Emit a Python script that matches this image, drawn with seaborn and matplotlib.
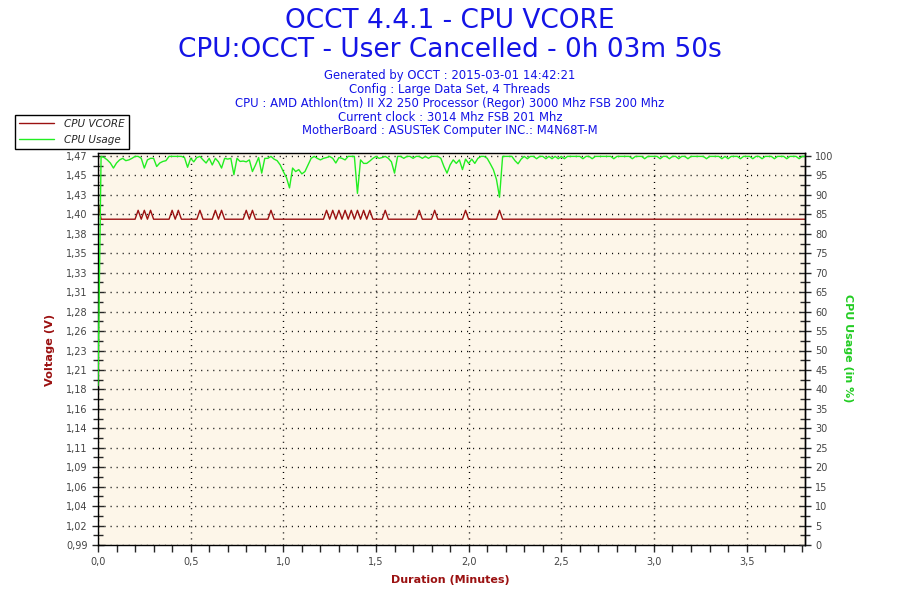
import numpy as np
import pandas as pd
import matplotlib
matplotlib.use("Agg")
import matplotlib.pyplot as plt
from matplotlib.lines import Line2D
from matplotlib.ticker import FixedLocator, MultipleLocator, FuncFormatter
import seaborn as sns

# ------------------------------------------
# data: one sample per second (0h 03m 50s)
# ------------------------------------------
seconds = np.arange(230)

vcore = [
    1.413, 1.392, 1.392, 1.392, 1.392, 1.392, 1.392, 1.392, 1.392, 1.392,
    1.392, 1.392, 1.392, 1.403, 1.392, 1.403, 1.392, 1.403, 1.392, 1.392,
    1.392, 1.392, 1.392, 1.392, 1.403, 1.392, 1.403, 1.392, 1.392, 1.392,
    1.392, 1.392, 1.392, 1.403, 1.392, 1.392, 1.392, 1.392, 1.403, 1.392,
    1.403, 1.392, 1.392, 1.392, 1.392, 1.392, 1.392, 1.392, 1.403, 1.392,
    1.403, 1.392, 1.392, 1.392, 1.392, 1.392, 1.403, 1.392, 1.392, 1.392,
    1.392, 1.392, 1.392, 1.392, 1.392, 1.392, 1.392, 1.392, 1.392, 1.392,
    1.392, 1.392, 1.392, 1.392, 1.403, 1.392, 1.403, 1.392, 1.403, 1.392,
    1.403, 1.392, 1.403, 1.392, 1.403, 1.392, 1.403, 1.392, 1.403, 1.392,
    1.392, 1.392, 1.392, 1.403, 1.392, 1.392, 1.392, 1.392, 1.392, 1.392,
    1.392, 1.392, 1.392, 1.392, 1.403, 1.392, 1.392, 1.392, 1.392, 1.403,
    1.392, 1.392, 1.392, 1.392, 1.392, 1.392, 1.392, 1.392, 1.392, 1.403,
    1.392, 1.392, 1.392, 1.392, 1.392, 1.392, 1.392, 1.392, 1.392, 1.392,
    1.403, 1.392, 1.392, 1.392, 1.392, 1.392, 1.392, 1.392, 1.392, 1.392,
    1.392, 1.392, 1.392, 1.392, 1.392, 1.392, 1.392, 1.392, 1.392, 1.392,
    1.392, 1.392, 1.392, 1.392, 1.392, 1.392, 1.392, 1.392, 1.392, 1.392,
    1.392, 1.392, 1.392, 1.392, 1.392, 1.392, 1.392, 1.392, 1.392, 1.392,
    1.392, 1.392, 1.392, 1.392, 1.392, 1.392, 1.392, 1.392, 1.392, 1.392,
    1.392, 1.392, 1.392, 1.392, 1.392, 1.392, 1.392, 1.392, 1.392, 1.392,
    1.392, 1.392, 1.392, 1.392, 1.392, 1.392, 1.392, 1.392, 1.392, 1.392,
    1.392, 1.392, 1.392, 1.392, 1.392, 1.392, 1.392, 1.392, 1.392, 1.392,
    1.392, 1.392, 1.392, 1.392, 1.392, 1.392, 1.392, 1.392, 1.392, 1.392,
    1.392, 1.392, 1.392, 1.392, 1.392, 1.392, 1.392, 1.392, 1.392, 1.392,
]

usage = [
    41.0, 99.9, 99.6, 99.0, 98.2, 96.9, 98.2, 99.0, 99.4, 98.8,
    99.0, 99.4, 99.9, 99.9, 99.4, 96.9, 99.0, 99.4, 99.4, 97.3,
    98.2, 98.6, 98.8, 99.9, 99.9, 99.9, 99.9, 99.9, 99.6, 97.1,
    99.4, 98.5, 99.6, 99.9, 99.0, 98.2, 99.4, 97.7, 99.4, 98.5,
    96.9, 99.4, 99.2, 99.4, 95.2, 99.4, 98.6, 98.7, 98.5, 99.0,
    96.0, 97.7, 99.6, 95.6, 99.4, 99.4, 99.9, 99.2, 98.8, 97.7,
    96.0, 94.5, 91.8, 96.9, 96.0, 96.5, 95.4, 96.0, 97.7, 99.4,
    99.9, 99.4, 99.0, 99.4, 99.6, 99.9, 99.4, 98.2, 99.6, 99.4,
    99.0, 99.9, 99.9, 99.9, 90.4, 99.0, 98.1, 98.1, 98.7, 99.4,
    99.9, 99.4, 99.6, 99.9, 99.4, 98.5, 95.6, 99.9, 99.9, 99.4,
    99.9, 99.9, 99.4, 99.9, 99.9, 99.4, 99.9, 99.4, 99.9, 99.9,
    99.9, 99.4, 97.3, 95.6, 97.7, 99.0, 98.1, 99.0, 96.5, 99.2,
    98.1, 99.2, 98.1, 99.4, 99.9, 99.9, 99.4, 98.0, 96.5, 94.0,
    89.4, 99.9, 99.9, 99.9, 99.9, 98.8, 98.0, 99.2, 99.9, 99.3,
    99.9, 99.9, 99.3, 99.9, 99.9, 99.3, 99.9, 99.3, 99.9, 99.3,
    99.9, 99.3, 99.9, 99.9, 99.9, 99.9, 99.9, 99.3, 99.9, 99.9,
    99.3, 99.9, 99.9, 99.9, 99.9, 99.9, 99.9, 99.3, 99.9, 99.9,
    99.9, 99.9, 99.9, 99.3, 99.9, 99.9, 99.9, 99.3, 99.9, 99.9,
    99.9, 99.9, 99.3, 99.9, 99.9, 99.3, 99.9, 99.9, 99.3, 99.9,
    99.9, 99.3, 99.9, 99.9, 99.9, 99.9, 99.9, 99.3, 99.9, 99.9,
    99.9, 99.9, 99.3, 99.9, 99.3, 99.9, 99.9, 99.9, 99.3, 99.9,
    99.9, 99.9, 99.3, 99.9, 99.9, 99.3, 99.9, 99.9, 99.9, 99.3,
    99.9, 99.9, 99.9, 99.3, 99.9, 99.9, 99.9, 99.3, 99.9, 99.9,
]

volt_labels = ["0,99", "1,02", "1,04", "1,06", "1,09", "1,11", "1,14",
               "1,16", "1,18", "1,21", "1,23", "1,26", "1,28", "1,31",
               "1,33", "1,35", "1,38", "1,40", "1,43", "1,45", "1,47"]
usage_ticks = [0, 5, 10, 15, 20, 25, 30, 35, 40, 45, 50,
               55, 60, 65, 70, 75, 80, 85, 90, 95, 100]

title_lines = ["OCCT 4.4.1 - CPU VCORE",
               "CPU:OCCT - User Cancelled - 0h 03m 50s"]
info_lines = ["Generated by OCCT : 2015-03-01 14:42:21",
              "Config : Large Data Set, 4 Threads",
              "CPU : AMD Athlon(tm) II X2 250 Processor (Regor) 3000 Mhz FSB 200 Mhz",
              "Current clock : 3014 Mhz FSB 201 Mhz",
              "MotherBoard : ASUSTeK Computer INC.: M4N68T-M"]

df = pd.DataFrame({"minutes": seconds / 60.0, "vcore": vcore, "usage": usage})

# ------------------------------------------
# styling
# ------------------------------------------
sns.set_style("ticks")
plt.rcParams["font.family"] = ["DejaVu Sans"]

RED = "#9b1111"
GREEN = "#22ee22"
BLUE = "#1414e6"
TICK = "#444444"

fig = plt.figure(figsize=(9, 6), dpi=100)
ax = fig.add_axes([98 / 900, 55 / 600, 707 / 900, 392 / 600])
ax.set_facecolor("#fdf6e9")

sns.lineplot(data=df, x="minutes", y="vcore", ax=ax, color=RED,
             linewidth=1.0, legend=False)
ax2 = ax.twinx()
sns.lineplot(data=df, x="minutes", y="usage", ax=ax2, color=GREEN,
             linewidth=1.0, legend=False)

# limits (top of frame sits a little above 100 % / 1,47)
ax.set_xlim(0, 3.815)
ax.set_ylim(0.99, 1.47 + 0.48 * 3 / 389)
ax2.set_ylim(0, 100 + 100 * 3 / 389)

vticks = np.linspace(0.99, 1.47, len(volt_labels))
ax.yaxis.set_major_locator(FixedLocator(vticks))
ax.set_yticklabels(volt_labels)
ax.yaxis.set_minor_locator(FixedLocator((vticks[:-1] + vticks[1:]) / 2))

ax2.yaxis.set_major_locator(FixedLocator(usage_ticks))
ax2.set_yticklabels([str(v) for v in usage_ticks])
ax2.yaxis.set_minor_locator(MultipleLocator(2.5))

ax.xaxis.set_major_locator(MultipleLocator(0.5))
ax.xaxis.set_minor_locator(MultipleLocator(0.1))
ax.xaxis.set_major_formatter(FuncFormatter(lambda v, p: f"{v:.1f}".replace(".", ",")))

ax.grid(True, which="major", color="black", linestyle=(0, (0.75, 3.6)), linewidth=1.0)

ax.tick_params(axis="y", which="major", direction="inout", length=9, width=1,
               labelsize=7, labelcolor=TICK, pad=3)
ax.tick_params(axis="y", which="minor", direction="inout", length=7, width=1)
ax.tick_params(axis="x", which="both", direction="out", length=5, width=1,
               labelsize=7, labelcolor=TICK, pad=4)
ax2.tick_params(axis="y", which="major", direction="inout", length=9, width=1,
                labelsize=7, labelcolor=TICK, pad=3)
ax2.tick_params(axis="y", which="minor", direction="inout", length=7, width=1)

for sp in ax.spines.values():
    sp.set_color("black")
    sp.set_linewidth(1)
# twin keeps only its right spine so the green start stays visible on the left edge
for name, sp in ax2.spines.items():
    sp.set_visible(name == "right")
    sp.set_color("black")
    sp.set_linewidth(1)

ax.set_xlabel("")
ax.set_ylabel("")
ax2.set_ylabel("")

# ------------------------------------------
# texts
# ------------------------------------------
fig.text(0.5, 1 - 21 / 600, title_lines[0], ha="center", va="center",
         fontsize=19, color=BLUE)
fig.text(0.5, 1 - 50 / 600, title_lines[1], ha="center", va="center",
         fontsize=19, color=BLUE)
for i, line in enumerate(info_lines):
    fig.text(0.5, 1 - (76 + 13.7 * i) / 600, line, ha="center", va="center",
             fontsize=8.4, color=BLUE)

fig.text(50 / 900, 1 - 350 / 600, "Voltage (V)", rotation=90, ha="center",
         va="center", fontsize=8.2, fontweight="bold", color=RED)
fig.text(848 / 900, 1 - 348 / 600, "CPU Usage (in %)", rotation=270, ha="center",
         va="center", fontsize=8, fontweight="bold", color="#22cc22")
fig.text(450 / 900, 1 - 580 / 600, "Duration (Minutes)", ha="center",
         va="center", fontsize=8, fontweight="bold", color=RED)

handles = [Line2D([], [], color=RED, linewidth=1.0),
           Line2D([], [], color=GREEN, linewidth=1.0)]
leg = fig.legend(handles, ["CPU VCORE", "CPU Usage"], loc="upper left",
                 bbox_to_anchor=(15 / 900, 1 - 115 / 600),
                 bbox_transform=fig.transFigure, frameon=True, fancybox=False,
                 edgecolor="black", framealpha=1, borderaxespad=0,
                 prop={"style": "italic", "size": 7.5}, handlelength=3.4,
                 borderpad=0.35, labelspacing=0.6, handletextpad=1.0)
leg.get_frame().set_linewidth(1)

fig.savefig("out.png", dpi=100, facecolor="white")
